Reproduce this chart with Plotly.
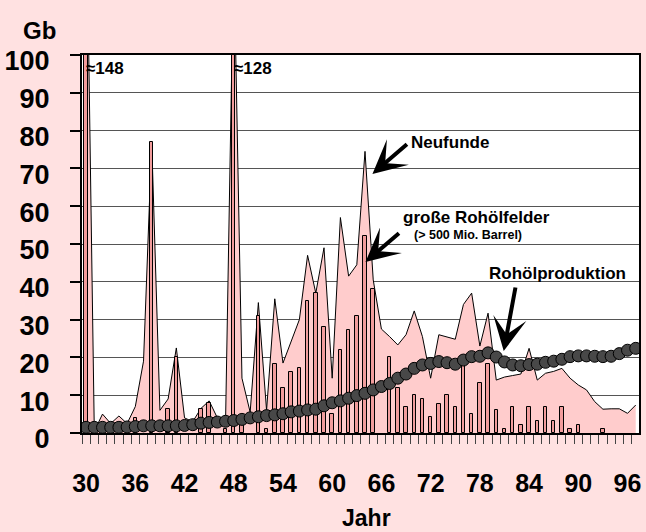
import plotly.graph_objects as go

# ---- data ----
years = list(range(1930, 1998))
neufunde = [148, 0.5, 5, 2.5, 4.5, 2.5, 7, 19, 77, 6,
            9, 22.5, 4, 3, 6.5, 8.5, 4, 3, 128, 14.5,
            5.5, 34.5, 6, 35.5, 18.5, 24, 30, 47, 37, 49,
            14.5, 57, 41.5, 44.5, 74.5, 40.5, 27.5, 25.5, 23.3, 26,
            32.3, 25.5, 14.5, 26, 25.3, 24.8, 34, 37, 23, 31.7,
            14, 14.8, 15.2, 15.6, 22.4, 14, 15.8, 16.3, 17.1, 14.5,
            12.7, 11.4, 8.3, 6.3, 6.4, 6.4, 5.2, 7.4]
grosse_felder = [148, 0, 0, 0, 0, 0, 4, 0, 77, 0,
                 6.3, 20, 0, 0, 6.3, 8, 0, 1, 128, 2,
                 0, 31, 1, 18.3, 12, 16.1, 17.1, 35, 37, 28,
                 4.9, 22, 27.3, 31, 52.2, 38, 0, 20, 12, 7,
                 10, 8.9, 4.2, 7.8, 10, 7, 18.5, 4.9, 13.3, 18.2,
                 6.2, 1, 7, 2.1, 7, 3.2, 7, 3.2, 7, 1,
                 2.1, 0, 0, 1, 0, 0, 0, 0]
produktion = [1.5, 1.5, 1.5, 1.5, 1.5, 1.6, 1.7, 1.9, 1.9, 1.9,
              1.9, 1.9, 2.0, 2.2, 2.6, 2.8, 2.9, 3.1, 3.3, 3.6,
              4.0, 4.3, 4.6, 4.8, 5.1, 5.6, 5.8, 6.1, 6.3, 7.2,
              8.0, 8.5, 9.2, 9.9, 10.5, 11.4, 12.3, 13.1, 14.5, 15.6,
              17.1, 18.0, 18.4, 18.9, 18.6, 18.2, 19.3, 20.2, 20.3, 21.2,
              20.1, 18.8, 18.0, 17.8, 18.1, 18.2, 18.7, 19.0, 19.5, 20.2,
              20.4, 20.4, 20.3, 20.2, 20.3, 21.0, 21.9, 22.4]
x_tickvals = list(range(1930, 1997, 6))
x_ticktext = ["30", "36", "42", "48", "54", "60", "66", "72", "78", "84", "90", "96"]
y_tickvals = list(range(0, 101, 10))

FONT = "Liberation Sans, Arial, Helvetica, sans-serif"
PAPER = "#FFE1E1"

bars_plot = [v if v > 0 else None for v in grosse_felder]

fig = go.Figure()
fig.add_trace(go.Scatter(x=years, y=neufunde, mode="lines", fill="tozeroy",
                         fillcolor="#FFCCCC", line=dict(color="black", width=1),
                         showlegend=False, hoverinfo="skip"))
fig.add_trace(go.Bar(x=years, y=bars_plot, width=0.42, xaxis="x2", yaxis="y2",
                     marker=dict(color="#F29C9C", line=dict(color="black", width=1)),
                     showlegend=False))
fig.add_trace(go.Scatter(x=years, y=produktion, mode="lines+markers", xaxis="x2", yaxis="y2",
                         line=dict(color="#222222", width=2),
                         marker=dict(size=12, color="#484848", line=dict(color="black", width=1)),
                         showlegend=False))

XR = [1929.5, 1997.4]
YR = [0, 100]

L, R, T, B = 81, 5, 55, 99
W, H = 646, 532
pw, ph = W - L - R, H - T - B


def px(xp):
    return (xp - L) / pw


def py(yp):
    return (H - B - yp) / ph


annots = []


def arrow(tip_px, tail_px):
    annots.append(dict(x=px(tip_px[0]), y=py(tip_px[1]), xref="paper", yref="paper",
                       ax=tail_px[0] - tip_px[0], ay=tail_px[1] - tip_px[1],
                       text="", showarrow=True, arrowhead=3, arrowsize=1.4,
                       arrowwidth=4, arrowcolor="black", standoff=0))


arrow((373, 174), (409, 143))
arrow((366, 262), (401, 232))
arrow((505, 351), (517, 286))


def label(text, xp, yp, size, xanchor="left"):
    annots.append(dict(x=px(xp), y=py(yp), xref="paper", yref="paper", text=text,
                       showarrow=False, xanchor=xanchor, yanchor="middle",
                       font=dict(family=FONT, size=size, color="black", weight="bold")))


label("Neufunde", 410, 142, 17)
label("große Rohölfelder", 402, 218, 17)
label("(> 500 Mio. Barrel)", 413, 235, 12.5)
label("Rohölproduktion", 488, 273, 17)
label("≈148", 83, 68, 17)
label("≈128", 232, 68, 17)
label("Gb", 38, 30, 24, xanchor="center")
label("Jahr", 367, 518, 23, xanchor="center")

fig.update_layout(
    width=W, height=H, autosize=False,
    margin=dict(l=L, r=R, t=T, b=B),
    paper_bgcolor=PAPER, plot_bgcolor="white",
    bargap=0, barmode="overlay",
    annotations=annots,
    xaxis=dict(range=XR, tickvals=x_tickvals, ticktext=x_ticktext,
               ticks="", showgrid=False, zeroline=False,
               showline=True, linecolor="black", linewidth=2, mirror=True,
               tickfont=dict(family=FONT, size=25, color="black", weight="bold"),
               ticklabelstandoff=27,
               minor=dict(ticks="outside", ticklen=9, tickwidth=1.2, tickcolor="#444444",
                          tick0=1929.5, dtick=1, showgrid=False)),
    yaxis=dict(range=YR, tickvals=y_tickvals, ticks="outside", ticklen=10, tickwidth=1.5,
               tickcolor="black", showgrid=True, gridcolor="#555555", gridwidth=1.2,
               zeroline=False, showline=True, linecolor="black", linewidth=2, mirror=True,
               tickfont=dict(family=FONT, size=27, color="black", weight="bold"),
               ticklabelstandoff=15, ticklabelshift=6),
    xaxis2=dict(range=XR, overlaying="x", visible=False, anchor="y2"),
    yaxis2=dict(range=YR, overlaying="y", visible=False, anchor="x2"),
)

fig.write_html("out.html", config={"displayModeBar": False},
               post_script="document.body.style.margin='0';document.body.style.overflow='hidden';")
